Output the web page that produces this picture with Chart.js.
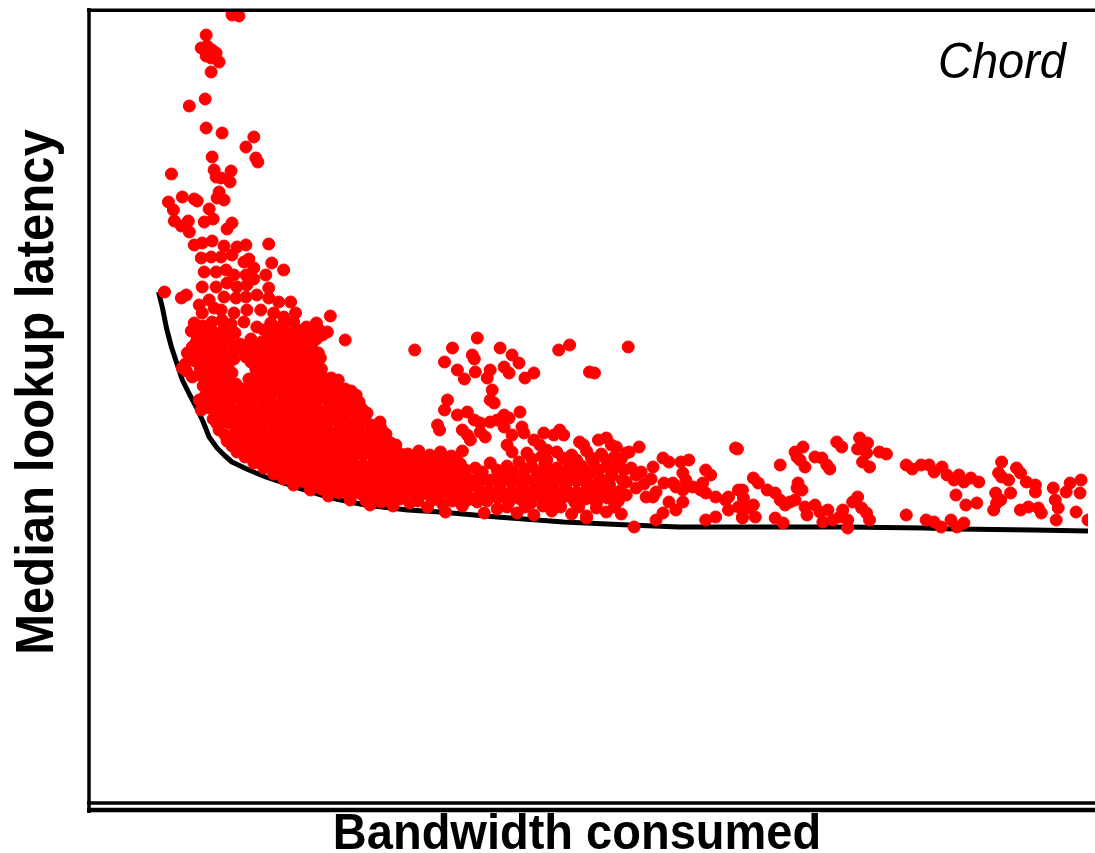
<!DOCTYPE html>
<html>
<head>
<meta charset="utf-8">
<script src="https://cdn.jsdelivr.net/npm/chart.js@4/dist/chart.umd.min.js"></script>
<style>
  html, body { margin: 0; padding: 0; background: #fff; }
  #wrap { width: 1095px; height: 853px; }
</style>
</head>
<body>
<div id="wrap"><canvas id="c" width="1095" height="853"></canvas></div>
<script>
// Axis titles and panel label
const xTitle = 'Bandwidth consumed';
const yTitle = 'Median lookup latency';
const panelLabel = 'Chord';

// Axis ranges (arbitrary units, no tick labels in the original)
const bandwidthRange = [0, 1005];
const latencyRange = [0, 796];

// Lower convex frontier (bandwidth, latency)
const frontierBandwidth = [69, 73, 77, 82, 88, 93, 100, 107, 114, 120, 128, 135, 143, 160, 177, 210, 243, 277, 320, 353, 410, 477, 543, 593, 660, 760, 840, 870, 950, 1005];
const frontierLatency   = [513, 497, 477, 458, 440, 425, 411, 398, 383, 368, 357, 350, 343, 335, 328, 317, 307, 300, 295, 293, 288, 283, 280, 278, 278, 278, 277, 276, 275, 274];

// Individual configurations [bandwidth, latency]
const upperPoints = [
  [143,790],[150,789],[117,770],[112,757],[118,759],[123,755],[127,752],[117,749],[122,747],[130,743],
  [122,733],[100,699],[116,706],[117,677],[133,672],[165,668],[157,658],[167,647],[169,643],[123,648],
  [82,631],[125,635],[142,634],[127,628],[132,627],[141,623],[130,613],[128,607],[135,605],[79,603],
  [93,608],[105,606],[108,604],[84,595],[120,596],[124,586],[115,583],[143,582],[138,576],[85,584],
  [99,584],[92,579],[100,573],[180,561],[105,560],[113,562],[123,564],[135,559],[148,558],[157,560],
  [112,547],[122,548],[132,548],[143,550],[155,543],[160,546],[165,537],[183,542],[195,535],[115,533],
  [127,533],[137,535],[145,530],[157,530],[165,526],[177,530],[113,518],[127,518],[138,522],[148,518],
  [158,520],[180,517],[75,513],[92,507],[97,510],[135,508],[147,507],[157,508],[168,510],[180,507],
  [190,503],[202,503],[207,492],[242,489],[113,492],[132,495],[145,492],[158,495],[172,495],[185,492],
  [195,488],[120,505],[110,500],[125,497]
];

const clusterPoints = [
  [105,482],[114,479],[123,483],[133,485],[142,481],[155,483],[168,478],[182,482],[194,480],[205,483],[218,478],[228,482],
  [102,474],[113,476],[124,473],[135,477],[146,472],[175,475],[186,477],[197,473],[208,476],[219,472],[230,476],[239,473],
  [107,463],[118,466],[129,462],[140,465],[151,461],[162,466],[173,463],[184,467],[195,462],[206,465],[217,461],[228,466],[257,465],
  [98,452],[109,455],[120,451],[131,454],[142,450],[153,455],[164,452],[175,456],[186,451],[197,454],[208,450],[219,455],[230,452],
  [96,441],[106,444],[117,440],[128,443],[139,439],[162,443],[173,440],[184,444],[195,441],[206,443],[217,439],[228,444],
  [110,430],[121,433],[132,429],[143,432],[167,430],[178,433],[189,429],[200,432],[211,428],[222,433],[233,430],[243,427],
  [93,437],[97,434],[103,428],
  [114,419],[125,422],[136,418],[147,421],[158,417],[169,422],[180,419],[191,423],[202,418],[213,421],[224,417],[235,422],[246,419],[257,416],
  [115,408],[126,411],[137,407],[148,410],[159,406],[170,411],[181,408],[192,412],[203,407],[214,410],[225,406],[236,411],[247,408],[258,405],[268,410],
  [120,397],[131,400],[142,396],[153,399],[164,395],[175,400],[186,397],[197,401],[208,396],[219,399],[230,395],[241,400],[252,397],[263,401],[274,396],
  [124,386],[135,389],[146,385],[157,388],[168,384],[179,389],[190,386],[201,390],[212,385],[223,388],[234,384],[245,389],[256,386],[267,383],[277,388],
  [110,405],[112,395],
  [130,375],[150,378],[161,374],[172,377],[183,373],[194,378],[205,375],[216,379],[227,374],[238,377],[249,373],[260,378],[271,375],[282,372],[293,377],
  [138,364],[149,367],[160,363],[171,366],[182,362],[193,367],[204,364],[215,368],[226,363],[237,366],[248,362],[259,367],[270,364],[281,361],[292,366],[303,362],
  [148,353],[159,356],[170,352],[181,355],[192,351],[203,356],[214,353],[225,357],[236,352],[247,355],[258,351],[269,356],[280,353],[291,350],[302,355],[313,351],
  [165,342],[176,345],[187,341],[198,344],[209,340],[220,345],[231,342],[242,346],[253,341],[264,344],[275,340],[286,345],[297,342],[308,339],[319,344],[330,340],
  [185,331],[196,334],[207,330],[218,333],[229,329],[240,334],[251,331],[262,335],[273,330],[284,333],[295,329],[306,334],[317,331],[328,328],[339,333],[350,329],
  [205,320],[216,323],[227,319],[238,322],[249,318],[260,323],[271,320],[282,324],[293,319],[304,322],[315,318],[326,323],[337,320],[348,317],[359,322],[370,318],
  [240,309],[251,312],[262,308],[273,311],[284,307],[295,312],[306,309],[317,313],[328,308],[339,311],[350,307],[361,312],[372,309],[383,306],
  [282,300],[293,303],[305,299],[322,302],[340,298],[355,301],[375,299],[390,303]
];

const clusterFillPoints = [
  [108,469],[119,470],[130,468],[141,470],[180,469],[191,471],[202,468],[213,470],[224,468],[234,470],
  [103,458],[113,459],[124,457],[135,460],[146,457],[157,459],[168,458],[179,461],[190,457],[201,460],[212,457],[223,459],
  [101,447],[112,448],[123,446],[134,449],[145,446],[157,448],[168,446],[179,449],[190,446],[201,448],[212,446],[223,449],[232,447],
  [111,436],[122,437],[133,435],[167,436],[178,438],[189,435],[200,437],[211,435],[222,438],[233,436],
  [116,425],[127,426],[138,424],[160,426],[172,424],[183,427],[194,424],[205,426],[216,424],[227,427],[238,425],[250,425],
  [120,414],[131,415],[142,413],[153,416],[164,413],[175,415],[186,414],[197,416],[208,413],[219,415],[230,413],[241,416],[252,413],[263,414],
  [118,403],[129,404],[140,402],[151,405],[162,402],[173,404],[184,402],[195,405],[206,402],[217,404],[228,402],[239,405],[250,402],[261,404],[271,403],
  [126,392],[137,393],[148,391],[159,394],[170,391],[181,393],[192,391],[203,394],[214,391],[225,393],[236,391],[247,394],[258,391],[269,393],[279,392],
  [128,381],[140,382],[151,380],[162,383],[173,380],[184,382],[195,380],[206,383],[217,380],[228,382],[239,380],[250,383],[261,380],[272,382],[283,380],[292,383],
  [136,370],[145,371],[155,369],[166,372],[177,369],[188,371],[199,369],[210,372],[221,369],[232,371],[243,369],[254,372],[265,369],[276,371],[287,369],[298,371],
  [143,359],[154,360],[165,358],[176,361],[187,358],[198,360],[209,358],[220,361],[231,358],[242,360],[253,358],[264,361],[275,358],[286,360],[297,358],[308,360],
  [156,348],[165,349],[176,347],[187,350],[198,347],[209,349],[220,347],[231,350],[242,347],[253,349],[264,347],[275,350],[286,347],[297,349],[308,347],[319,349],[327,347],
  [175,337],[181,338],[192,336],[203,339],[214,336],[225,338],[236,336],[247,339],[258,336],[269,338],[280,336],[291,339],[302,336],[313,338],[324,336],[335,338],[345,336],
  [195,326],[201,327],[212,325],[223,328],[234,325],[245,327],[256,325],[267,328],[278,325],[289,327],[300,325],[311,328],[322,325],[333,327],[344,325],[355,327],[365,325],
  [222,315],[233,316],[244,314],[255,317],[266,314],[277,316],[288,314],[299,317],[310,314],[321,316],[332,314],[343,317],[354,314],[365,316],[376,313],
  [262,305],[278,304],[290,306],[301,304],[312,306],[330,304],[345,305],[365,304],[380,305]
];

const archPoints = [
  [327,455],[365,457],[390,467],[413,457],[425,450],[472,455],[483,460],[542,458],[357,443],[370,435],
  [377,426],[385,450],[387,446],[388,433],[403,435],[400,427],[417,438],[422,432],[432,442],[438,427],
  [447,432],[503,433],[508,432],[405,415],[403,405],[407,402],[360,405],[357,395],[370,390],[380,393],
  [387,385],[393,382],[403,383],[410,385],[417,390],[422,387],[433,393],[350,380],[352,375],[375,375],
  [380,370],[383,365],[393,373],[398,368],[417,378],[425,370],[435,378],[437,372],[420,360],[425,353],
  [457,372],[467,370],[473,375],[477,370],[447,365],[453,360],[460,355],[493,363],[497,360],[512,365],
  [520,367],[525,360],[530,358],[543,353],[553,358],[577,347],[583,343],[595,343],[603,345],[650,357],
  [567,338],[597,332],[600,325],[620,335],[625,330],[617,322],[615,315],[587,322],[597,315],[607,318],
  [620,312],[630,308],[643,308],[653,315],[570,285],[577,292],[590,295],[620,285],[630,288],[643,295],
  [657,288],[567,308],[583,303],[597,303],[640,305],[548,278],[500,287]
];

const bandPoints = [
  [320,351],[331,354],[342,350],[353,353],[364,349],[375,354],[440,352],[455,349],[470,353],[485,350],[500,354],[515,351],[528,348],[540,352],
  [340,339],[351,342],[362,338],[373,341],[388,337],[403,342],[420,339],[432,343],[445,338],[458,341],[470,337],[482,342],[495,339],[507,343],[520,338],[532,341],[545,337],
  [360,327],[371,330],[382,326],[393,329],[404,325],[415,330],[426,327],[437,331],[448,326],[459,329],[470,325],[481,330],[492,327],[503,331],[514,326],[525,329],[536,325],[550,330],[565,326],
  [380,315],[391,318],[402,314],[413,317],[424,313],[435,318],[446,315],[457,319],[468,314],[479,317],[490,313],[501,318],[512,315],[523,319],[534,314],[550,317],[570,313],[590,318],
  [400,304],[411,307],[422,303],[433,306],[444,302],[455,307],[466,304],[477,308],[488,303],[499,306],[510,302],[521,307],[532,304],
  [358,293],[397,292],[410,296],[430,292],[447,290],[465,294],[485,291],[500,289],[520,293],[535,291]
];

const bandFillPoints = [
  [325,346],[336,347],[347,345],[358,347],[369,345],[445,346],[460,345],[476,347],[490,345],[505,347],[520,345],[535,346],
  [345,334],[356,335],[367,333],[378,335],[395,333],[410,335],[426,333],[438,336],[451,333],[464,335],[476,333],[488,336],[500,333],[512,335],[526,333],[538,335],[555,333],
  [370,322],[380,323],[391,321],[402,324],[413,321],[424,323],[435,321],[446,324],[457,321],[468,323],[479,321],[490,324],[501,321],[512,323],[523,321],[540,323],[558,321],[578,322],
  [392,310],[405,311],[416,309],[427,312],[438,309],[449,311],[460,309],[471,312],[482,309],[493,311],[504,309],[515,312],[526,309],[540,310],[560,308],
  [420,298],[438,298],[456,299],[474,298],[492,298],[510,297],[528,298]
];

const tailPoints = [
  [652,356],[695,340],[710,353],[718,358],[712,348],[720,338],[715,345],[730,348],[737,347],[742,340],
  [745,336],[752,363],[757,358],[775,367],[783,362],[773,356],[782,352],[778,343],[785,338],[795,353],
  [802,351],[822,340],[828,336],[837,340],[845,340],[850,333],[858,338],[863,330],[870,325],[875,330],
  [880,323],[887,327],[895,323],[872,310],[882,300],[893,302],[822,290],[842,285],[850,283],[857,278],
  [867,285],[873,278],[880,282],[918,343],[915,332],[918,328],[925,325],[933,337],[937,332],[943,323],
  [952,320],[952,313],[912,312],[913,302],[910,295],[917,305],[927,312],[937,295],[945,298],[955,297],
  [958,292],[970,317],[983,313],[987,322],[997,312],[998,325],[972,305],[975,297],[973,285],[993,293],
  [1005,285],[657,315],[658,307],[653,298],[663,297],[668,300],[670,288],[657,287],[668,327],[673,322],
  [682,315],[690,312],[695,305],[700,300],[705,303],[710,305],[713,322],[717,315],[712,317],[690,287],
  [698,282],[720,298],[722,290],[730,300],[735,293],[738,283],[743,295],[748,285],[755,288],[758,295],
  [763,285],[763,277],[768,303],[773,308],[777,297],[782,292],[785,285]
];

const toXY = arr => arr.map(p => ({ x: p[0], y: p[1] }));
const samples = [].concat(upperPoints, clusterPoints, clusterFillPoints, archPoints, bandPoints, bandFillPoints, tailPoints);
const frontier = frontierBandwidth.map((b, i) => ({ x: b, y: frontierLatency[i] }));

const framePlugin = {
  id: 'frame',
  afterDatasetsDraw(chart) {
    const { ctx, chartArea: a } = chart;
    ctx.save();
    ctx.strokeStyle = '#000';
    ctx.lineCap = 'butt';
    ctx.lineWidth = 3.5;
    ctx.beginPath(); ctx.moveTo(a.left - 1, 8); ctx.lineTo(a.left - 1, 813); ctx.stroke();
    ctx.beginPath(); ctx.moveTo(a.left - 3, a.top + 1.25); ctx.lineTo(1095, a.top + 1.25); ctx.stroke();
    ctx.beginPath(); ctx.moveTo(a.left - 3, a.bottom - 2); ctx.lineTo(1095, a.bottom - 2); ctx.stroke();
    ctx.lineWidth = 4.5;
    ctx.beginPath(); ctx.moveTo(a.left - 3, a.bottom + 5); ctx.lineTo(1095, a.bottom + 5); ctx.stroke();
    ctx.restore();
  },
  afterDraw(chart) {
    const ctx = chart.ctx;
    ctx.save();
    ctx.fillStyle = '#000';
    ctx.textBaseline = 'alphabetic';
    // x title
    ctx.save();
    ctx.font = 'bold 47px "Liberation Sans", Arial, Helvetica, sans-serif';
    ctx.textAlign = 'center';
    ctx.translate(577, 849);
    ctx.scale(1, 1.07);
    ctx.fillText(xTitle, 0, 0);
    ctx.restore();
    // y title
    ctx.save();
    ctx.font = 'bold 49px "Liberation Sans", Arial, Helvetica, sans-serif';
    ctx.textAlign = 'center';
    ctx.translate(53, 392);
    ctx.rotate(-Math.PI / 2);
    ctx.scale(1, 1.08);
    ctx.fillText(yTitle, 0, 0);
    ctx.restore();
    // panel label
    ctx.save();
    ctx.font = 'italic 47px "Liberation Sans", Arial, Helvetica, sans-serif';
    ctx.textAlign = 'left';
    ctx.translate(938, 78);
    ctx.scale(1, 1.05);
    ctx.fillText(panelLabel, 0, 0);
    ctx.restore();
    ctx.restore();
  }
};

new Chart(document.getElementById('c'), {
  type: 'scatter',
  data: {
    datasets: [
      {
        label: 'Configurations',
        data: toXY(samples),
        backgroundColor: '#ff0000',
        borderColor: '#ff0000',
        borderWidth: 1,
        pointRadius: 6,
        pointHoverRadius: 6
      },
      {
        type: 'line',
        label: 'Convex hull',
        data: frontier,
        borderColor: '#000',
        borderWidth: 5,
        pointRadius: 0,
        fill: false,
        tension: 0,
        showLine: true,
        borderJoinStyle: 'round'
      }
    ]
  },
  options: {
    responsive: false,
    animation: false,
    devicePixelRatio: 1,
    layout: { padding: { left: 90, top: 9, right: 0, bottom: 48 } },
    plugins: { legend: { display: false }, tooltip: { enabled: false } },
    scales: {
      x: { type: 'linear', min: bandwidthRange[0], max: bandwidthRange[1], display: false },
      y: { type: 'linear', min: latencyRange[0], max: latencyRange[1], display: false }
    }
  },
  plugins: [framePlugin]
});
</script>
</body>
</html>
